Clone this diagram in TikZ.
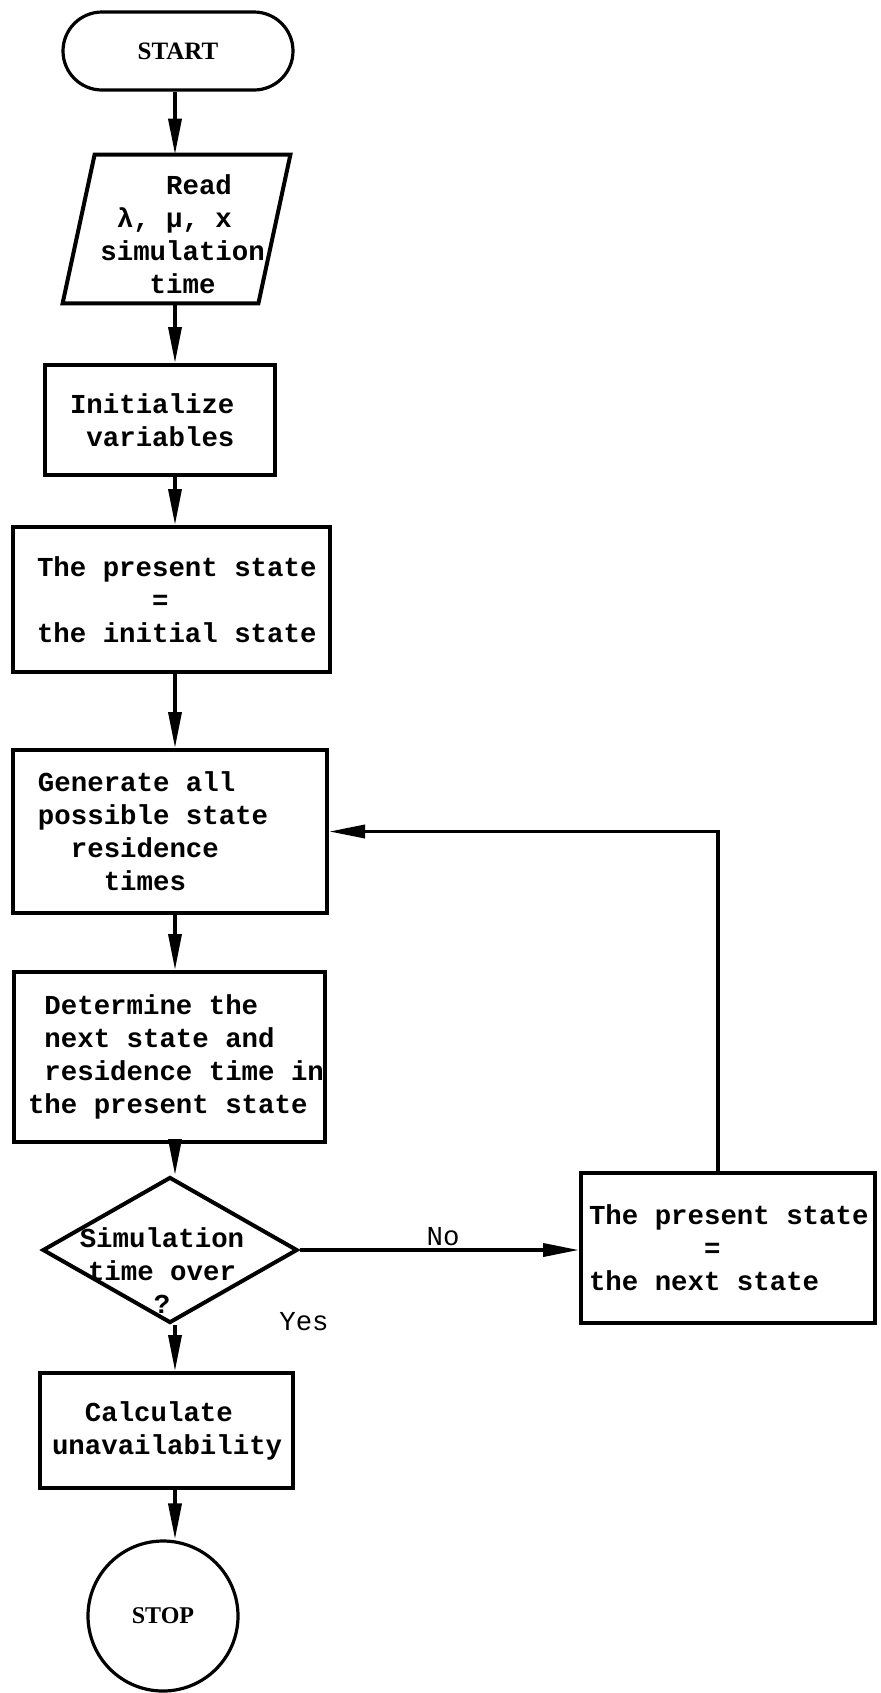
\documentclass[tikz,border=0pt]{standalone}
\usepackage{fontspec}
\setmainfont{Liberation Serif}
\setmonofont{Liberation Mono}
\usetikzlibrary{arrows.meta,shapes.geometric}

\newcommand{\chskip}[1]{\hspace*{#1\dimexpr0.6em\relax}}
\newcommand{\typeface}{\fontsize{13.7}{16.5}\selectfont\ttfamily\bfseries}
\newcommand{\fullspaces}{\spaceskip=0.6em\relax}

\begin{document}
\begin{tikzpicture}[x=0.5pt, y=-0.5pt,
  txt/.style={font=\typeface, inner sep=0pt},
  box/.style={txt, draw, line width=2pt, align=left, execute at begin node=\fullspaces},
  flow/.style={line width=1.8pt, -{Triangle[length=18pt, width=6.5pt]}}]

\useasboundingbox (0,0) rectangle (880,1693);
\coordinate (axis) at (175,0);

% start and input
\node[draw, line width=1.6pt, rounded corners=19.5pt, minimum width=115pt, minimum height=39pt,
      font=\fontsize{12.5}{15}\selectfont\bfseries] (start) at (178,51) {START};
\node[minimum width=97.5pt, minimum height=74pt, inner sep=0pt] (read) at (176.5,229) {};
\draw[line width=2pt] ([xshift=8pt]read.north west) -- ([xshift=8pt]read.north east)
  -- ([xshift=-8pt]read.south east) -- ([xshift=-8pt]read.south west) -- cycle;
\node[txt, align=left, anchor=west] (readtxt) at (100,234)
  {\chskip{4}Read\\\chskip{1}λ, μ, x\\simulation\\\chskip{3}time};

% main column
\node[box, minimum width=115pt, minimum height=55pt, text width=90pt] (init) at (160,420)
  {Initialize\\\chskip{1}variables};
\node[box, minimum width=158.5pt, minimum height=72.5pt, text width=134.5pt] (present) at (171.5,599.5)
  {The~present~state\\\chskip{7}=\\the~initial~state};
\node[box, minimum width=157pt, minimum height=81.5pt, text width=132pt] (gen) at (170,831.5)
  {Generate all\\possible state\\\chskip{2}residence\\\chskip{4}times};
\node[box, minimum width=155.5pt, minimum height=85pt, text width=141.5pt] (determ) at (169.5,1057)
  {\chskip{1}Determine~the\\\chskip{1}next~state~and\\\chskip{1}residence~time~in\\the~present~state};

% decision
\node[diamond, draw, line width=2pt, minimum width=127.5pt, minimum height=73pt, inner sep=0pt] (dec) at (170,1250) {};
\node[txt, align=center] (dectxt) at (162,1271) {Simulation\\time~over\\?};

\node[box, minimum width=147pt, minimum height=75pt, text width=139pt] (nextst) at (728,1248)
  {The~present~state\\\chskip{7}=\\the~next~state};
\node[box, minimum width=126.5pt, minimum height=57.5pt, text width=114.5pt] (unavail) at (166.5,1430.5)
  {\chskip{2}Calculate\\unavailability};

\node[draw, circle, line width=1.6pt, minimum size=75pt, inner sep=0pt,
      font=\fontsize{12}{14}\selectfont\bfseries] (stop) at (163,1616) {STOP};

% labels
\node[txt, font=\fontsize{13.7}{16.5}\selectfont\ttfamily] (nolbl) at (443,1237) {No};
\node[txt, font=\fontsize{13.7}{16.5}\selectfont\ttfamily] (yeslbl) at (304,1322) {Yes};

% arrows
\draw[flow] (start.south -| axis) -- (read.north -| axis);
\draw[flow] (read.south -| axis) -- (init.north -| axis);
\draw[flow] (init.south -| axis) -- (present.north -| axis);
\draw[flow] (present.south -| axis) -- (gen.north -| axis);
\draw[flow] (gen.south -| axis) -- (determ.north -| axis);
\draw[flow] (determ.south -| axis) -- (dec.north -| axis);
\draw[flow] (dec.south -| axis) -- (unavail.north -| axis);
\draw[flow] (unavail.south -| axis) -- (stop.north -| axis);
\draw[flow] (dec.east) -- (dec.east -| nextst.west);
\draw[flow] ([xshift=-5pt]nextst.north) |- (gen.east);

\end{tikzpicture}
\end{document}
